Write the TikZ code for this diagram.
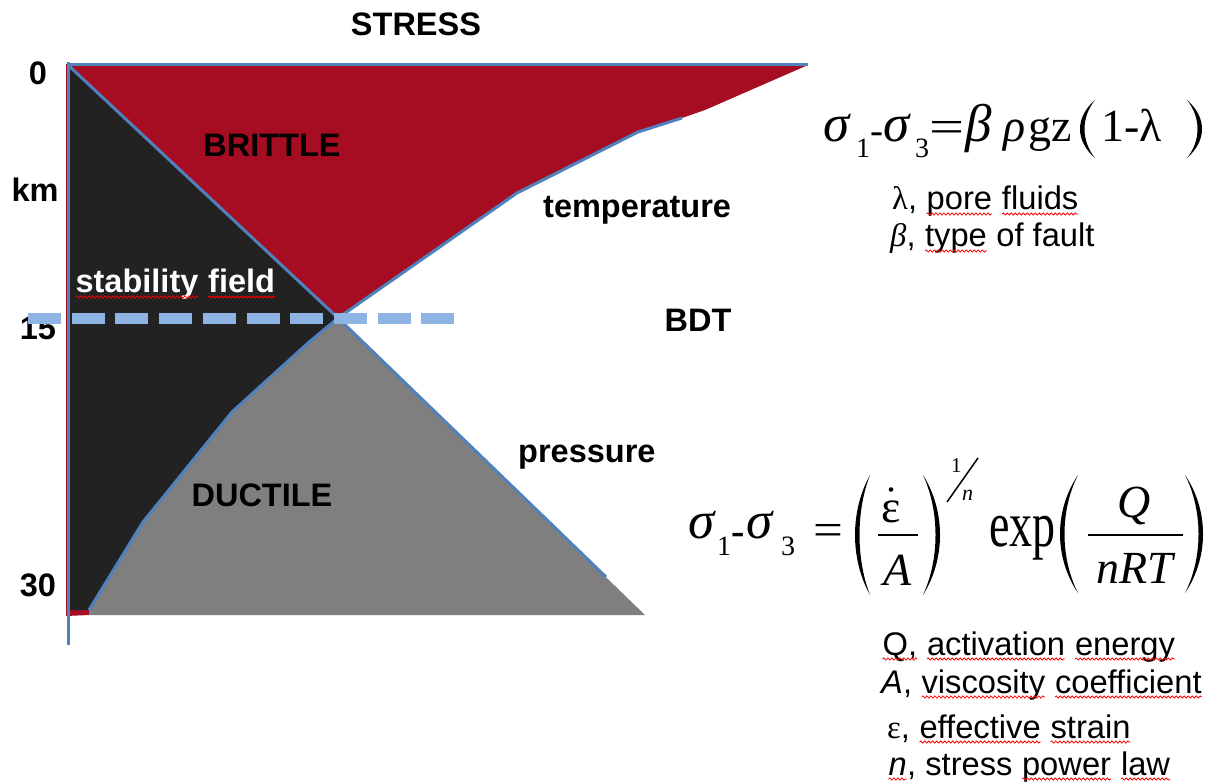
\documentclass[tikz,border=0pt]{standalone}
\usepackage{fontspec}
\usepackage{graphicx}
\usetikzlibrary{decorations.pathmorphing}
\setmainfont{Liberation Sans}
\newfontfamily\tms{Liberation Serif}
\newcommand\squig[1]{\tikz[baseline=(sq.base)]{\node[inner sep=0pt,outer sep=0pt,anchor=base](sq){#1};\draw[red,line width=0.8pt,decorate,decoration={snake,amplitude=1.1pt,segment length=4pt}]([yshift=-4pt]sq.base west)--([yshift=-4pt]sq.base east);}}
% tapered parenthesis: #1 end x, #2 outer mid x, #3 inner mid x, #4 y top, #5 y bottom
\newcommand\vparen[5]{\fill (#1,#4) .. controls ({(4*#2-#1)/3},{#4+(#5-#4)*0.3}) and ({(4*#2-#1)/3},{#5-(#5-#4)*0.3}) .. (#1,#5) .. controls ({(4*#3-#1)/3},{#5-(#5-#4)*0.3}) and ({(4*#3-#1)/3},{#4+(#5-#4)*0.3}) .. (#1,#4) -- cycle;}
\definecolor{brittle}{RGB}{166,13,34}
\definecolor{darkfield}{RGB}{34,34,34}
\definecolor{ductile}{RGB}{127,127,127}
\definecolor{edgeblue}{RGB}{79,129,189}
\definecolor{dashblue}{RGB}{141,180,226}
\tikzset{
  edge/.style={draw=edgeblue, line width=3pt, line join=round},
  lbl/.style={font=\bfseries\fontsize{32.5}{38}\selectfont, inner sep=0pt},
  lst/.style={font=\fontsize{32.7}{38}\selectfont, inner sep=0pt, anchor=base west},
  eqa/.style={font=\tms\fontsize{46}{50}\selectfont, inner sep=0pt, anchor=base west},
  eqg/.style={font=\tms\itshape\fontsize{53}{56}\selectfont, inner sep=0pt, anchor=base west},
  eqs/.style={font=\tms\fontsize{28}{30}\selectfont, inner sep=0pt, anchor=base west},
  eqh/.style={font=\tms\fontsize{39}{42}\selectfont, inner sep=0pt, anchor=base west},
  eqc/.style={font=\tms\fontsize{46}{50}\selectfont, inner sep=0pt, anchor=base},
  fracbar/.style={line width=2pt},
}
\begin{document}
\begin{tikzpicture}[x=1pt,y=-1pt]
\useasboundingbox (0,0) rectangle (1222,783);
\fill[white] (0,0) rectangle (1222,783);
% key points
\coordinate (o) at (68,65);
\coordinate (tr) at (808,65);
\coordinate (bdt) at (338,318);
\coordinate (t1) at (705,110);
\coordinate (t2) at (682,118);
\coordinate (t3) at (638,132);
\coordinate (t4) at (517,193);
\coordinate (d1) at (308,343);
\coordinate (d2) at (232,412);
\coordinate (d3) at (143,522);
\coordinate (d4) at (89,610);
\coordinate (pr) at (606,577);
\coordinate (gr) at (645,615);
\coordinate (gl) at (89,615);
% regions
\fill[brittle] (66,64) -- (tr) -- (t1) -- (t2) -- (t3) -- (t4) -- (bdt) -- (d4) -- (gl) -- (66,616) -- cycle;
\fill[darkfield] (69,66) -- (bdt) -- (d1) -- (d2) -- (d3) -- (d4) -- (69,610) -- cycle;
\fill[ductile] (bdt) -- (gr) -- (gl) -- (d4) -- (d3) -- (d2) -- (d1) -- cycle;
% edges
\draw[edge] (68,62) -- (68,645);
\draw[edge] (o) -- (tr);
\draw[edge] (o) -- (bdt);
\draw[edge] (bdt) -- (pr);
\draw[edge] (t2) -- (t3) -- (t4) -- (bdt);
\draw[edge] (bdt) -- (d1) -- (d2) -- (d3) -- (d4);
% labels
\node[lbl] (stress) at (416,24) {STRESS};
\node[lbl] (z0) at (38,73) {0};
\node[lbl] (km) at (35,190) {km};
\node[lbl] (z15) at (38,328) {15};
\node[lbl] (z30) at (38,585) {30};
\node[lbl] (brit) at (272,145) {BRITTLE};
\node[lbl, anchor=base west, text=white] (stab) at (75,293) {\squig{stability} \squig{field}};
\node[lbl, anchor=base west] (temp) at (543,218) {temperature};
\node[lbl] (bdtl) at (698,320) {BDT};
\node[lbl, anchor=base west] (pres) at (518,462) {pressure};
\node[lbl] (duct) at (262,495) {DUCTILE};
% dashed BDT line
\coordinate (dA) at (28,318);
\coordinate (dB) at (456,318);
\draw[dashblue, line width=11pt, dash pattern=on 33pt off 10.7pt] (dA) -- (dB);
% ---- brittle law
\node[eqg] (e1s1) at (823,142) {σ};
\node[eqs] (e1i1) at (856,158) {1};
\node[eqh] (e1m1) at (870,144) {-};
\node[eqg] (e1s3) at (883,142) {σ};
\node[eqs] (e1i3) at (915,158) {3};
\node[eqc] (e1eq) at (946.5,143) {\scalebox{1.35}[1]{=}};
\node[eqg] (e1b) at (965,142) {β};
\node[eqa] (e1r) at (1003,142) {\itshape ρ};
\node[eqa] (e1gz) at (1028,142) {gz};
\vparen{1095}{1080}{1084.5}{100}{158}
\node[eqa] (e1in) at (1101,142) {1-λ};
\vparen{1187}{1202}{1197.5}{100}{158}
\node[lst] (l1) at (892,210) {{\tms λ}, \squig{pore} \squig{fluids}};
\node[lst] (l2) at (890,247) {{\tms\itshape β}, \squig{type} of fault};
% ---- ductile law
\node[eqg] (e2s1) at (688,538) {σ};
\node[eqs] (e2i1) at (717,555) {1};
\node[eqh, font=\bfseries\tms\fontsize{40}{42}\selectfont] (e2m) at (731,544) {-};
\node[eqg] (e2s3) at (746,538) {σ};
\node[eqs] (e2i3) at (781,555) {3};
\node[eqc] (e2eq) at (828,545.5) {\scalebox{1.15}[1]{=}};
\vparen{870}{855}{859.5}{475}{595}
\node[eqc] (e2eps) at (891,522) {ε};
\fill (891,489.5) circle (2.3);
\draw[fracbar] (878,535) -- (918,535);
\node[eqc] (e2A) at (898,585) {\itshape A};
\vparen{923}{940}{935.5}{475}{595}
\node[inner sep=0pt, anchor=base west, font=\tms\fontsize{21}{22}\selectfont] (e2p1) at (951,472) {1};
\draw[line width=1.5pt] (947,502) -- (978,458);
\node[inner sep=0pt, anchor=base west, font=\tms\itshape\fontsize{22}{22}\selectfont] (e2pn) at (962,500) {n};
\node[eqa] (e2exp) at (989,546) {\scalebox{1}[1.4]{exp}};
\vparen{1078}{1060}{1064.5}{475}{593}
\node[eqc] (e2Q) at (1134,517) {\itshape Q};
\draw[fracbar] (1088,535) -- (1183,535);
\node[eqc] (e2nrt) at (1135,583) {\itshape nRT};
\vparen{1185}{1203}{1198.5}{475}{593}
\node[lst] (l3) at (882,655) {\squig{Q,} \squig{activation} \squig{energy}};
\node[lst] (l4) at (881,693) {{\itshape A}, \squig{viscosity} \squig{coefficient}};
\node[lst] (l5) at (887,738) {{\tms ε}, \squig{effective} \squig{strain}};
\node[lst] (l6) at (888,775) {\squig{\itshape n}, stress \squig{power} \squig{law}};
\end{tikzpicture}
\end{document}
